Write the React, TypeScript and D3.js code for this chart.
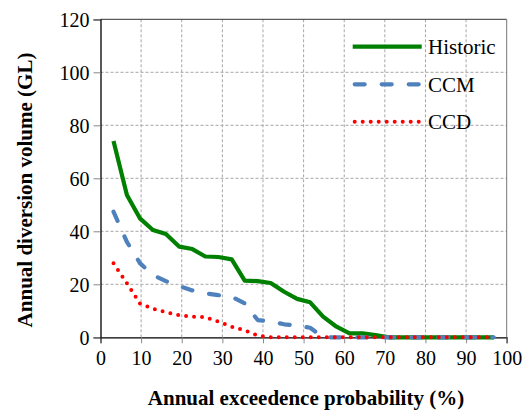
import React, { useEffect, useRef } from 'react';
import * as d3 from 'd3';

// plotting positions (%), 30 years
const probability = [
  3.2, 6.5, 9.7, 12.9, 16.1, 19.4, 22.6, 25.8, 29.0, 32.3, 35.5, 38.7, 41.9, 45.2, 48.4,
  51.6, 54.8, 58.1, 61.3, 64.5, 67.7, 71.0, 74.2, 77.4, 80.6, 83.9, 87.1, 90.3, 93.5, 96.8,
];

const historic = [
  74.1, 53.7, 44.9, 40.5, 39.0, 34.2, 33.3, 30.5, 30.3, 29.4, 21.4, 21.2, 20.5, 17.2, 14.5,
  13.2, 7.8, 4.0, 1.5, 1.5, 0.8, 0, 0, 0, 0, 0, 0, 0, 0, 0,
];

const ccm = [
  47.4, 36.0, 28.0, 23.5, 21.2, 19.3, 17.7, 16.6, 15.9, 15.3, 12.8, 6.5, 6.0, 4.9, 4.4,
  3.6, 0, 0, 0, 0, 0, 0, 0, 0, 0, 0, 0, 0, 0, 0,
];

const ccd = [
  27.9, 20.4, 12.8, 10.8, 9.5, 8.3, 7.8, 7.6, 5.9, 4.0, 2.6, 0.7, 0, 0, 0,
  0, 0, 0, 0, 0, 0, 0, 0, 0, 0, 0, 0, 0, 0, 0,
];

const xTicks = [0, 10, 20, 30, 40, 50, 60, 70, 80, 90, 100];
const yTicks = [0, 20, 40, 60, 80, 100, 120];

const seriesNames = ['Historic', 'CCM', 'CCD'];

const App = () => {
  const svgRef = useRef<SVGSVGElement>(null);

  useEffect(() => {
    const svg = d3.select(svgRef.current);
    const width = 527;
    const height = 412;
    const margin = { top: 19.3, right: 20.3, bottom: 74.7, left: 100.5 };
    const innerWidth = width - margin.left - margin.right;
    const innerHeight = height - margin.top - margin.bottom;
    const font = 'Liberation Serif, Times New Roman, serif';

    const x = d3.scaleLinear().domain([0, 100]).range([0, innerWidth]);
    const y = d3.scaleLinear().domain([0, 120]).range([innerHeight, 0]);

    const g = svg.append('g').attr('transform', `translate(${margin.left},${margin.top})`);

    // gridlines
    g.append('g')
      .selectAll('line')
      .data(xTicks.slice(1, -1))
      .enter()
      .append('line')
      .attr('x1', (d) => x(d))
      .attr('x2', (d) => x(d))
      .attr('y1', 0)
      .attr('y2', innerHeight)
      .attr('stroke', '#a6a6a6')
      .attr('stroke-width', 1)
      .attr('stroke-dasharray', '3,2');

    g.append('g')
      .selectAll('line')
      .data(yTicks.slice(1, -1))
      .enter()
      .append('line')
      .attr('x1', 0)
      .attr('x2', innerWidth)
      .attr('y1', (d) => y(d))
      .attr('y2', (d) => y(d))
      .attr('stroke', '#a6a6a6')
      .attr('stroke-width', 1)
      .attr('stroke-dasharray', '3,2');

    // frame top / right
    g.append('line')
      .attr('x1', 0).attr('x2', innerWidth).attr('y1', 0).attr('y2', 0)
      .attr('stroke', '#333').attr('stroke-width', 1);
    g.append('line')
      .attr('x1', innerWidth).attr('x2', innerWidth).attr('y1', 0).attr('y2', innerHeight)
      .attr('stroke', '#777').attr('stroke-width', 1);

    // axes
    const xAxis = g.append('g')
      .attr('transform', `translate(0,${innerHeight})`)
      .call(d3.axisBottom(x).tickValues(xTicks).tickSize(6).tickPadding(8));
    const yAxis = g.append('g')
      .call(d3.axisLeft(y).tickValues(yTicks).tickSize(7).tickPadding(4));

    [xAxis, yAxis].forEach((ax) => {
      ax.attr('font-family', font);
      ax.select('.domain').attr('stroke', '#000').attr('stroke-width', 1.3);
      ax.selectAll('.tick line').attr('stroke', '#888');
      ax.selectAll('.tick text')
        .attr('font-family', font)
        .attr('font-size', 20)
        .attr('fill', '#000');
    });
    xAxis.selectAll('.tick text').attr('dy', '0.71em');
    yAxis.selectAll('.tick text').attr('dy', '0.35em');

    const line = d3
      .line<number>()
      .x((_, i) => x(probability[i]))
      .y((d) => y(d));

    const styles = [
      { data: historic, color: '#008000', width: 4.2, dash: null, cap: 'butt' },
      { data: ccm, color: '#4f81bd', width: 4.2, dash: '10,17', cap: 'round' },
      { data: ccd, color: '#ff0000', width: 4, dash: '0,8', cap: 'round' },
    ];

    styles.forEach((s) => {
      g.append('path')
        .datum(s.data)
        .attr('d', line)
        .attr('fill', 'none')
        .attr('stroke', s.color)
        .attr('stroke-width', s.width)
        .attr('stroke-linejoin', 'round')
        .attr('stroke-linecap', s.cap)
        .attr('stroke-dasharray', s.dash);
    });

    // legend
    const legend = svg.append('g');
    const legendY = [46.7, 84.3, 121.7];
    seriesNames.forEach((name, i) => {
      const s = styles[i];
      legend.append('line')
        .attr('x1', i === 0 ? 352.7 : 354.7)
        .attr('x2', i === 0 ? 421.7 : 419.7)
        .attr('y1', legendY[i])
        .attr('y2', legendY[i])
        .attr('stroke', s.color)
        .attr('stroke-width', s.width)
        .attr('stroke-linecap', s.cap)
        .attr('stroke-dasharray', s.dash);
      legend.append('text')
        .attr('x', 428)
        .attr('y', legendY[i] + 7.5)
        .attr('font-family', font)
        .attr('font-size', 21)
        .attr('fill', '#000')
        .text(name);
    });

    // axis titles
    svg.append('text')
      .attr('x', 306)
      .attr('y', 405)
      .attr('text-anchor', 'middle')
      .attr('font-family', font)
      .attr('font-size', 21)
      .attr('font-weight', 'bold')
      .text('Annual exceedence probability (%)');

    svg.append('text')
      .attr('transform', 'translate(32,190) rotate(-90)')
      .attr('text-anchor', 'middle')
      .attr('font-family', font)
      .attr('font-size', 21)
      .attr('font-weight', 'bold')
      .text('Annual diversion volume (GL)');

    return () => {
      svg.selectAll('*').remove();
    };
  }, []);

  return (
    <svg
      ref={svgRef}
      width={527}
      height={412}
      style={{ position: 'absolute', left: 0, top: 0, background: '#fff' }}
    />
  );
};

export default App;
